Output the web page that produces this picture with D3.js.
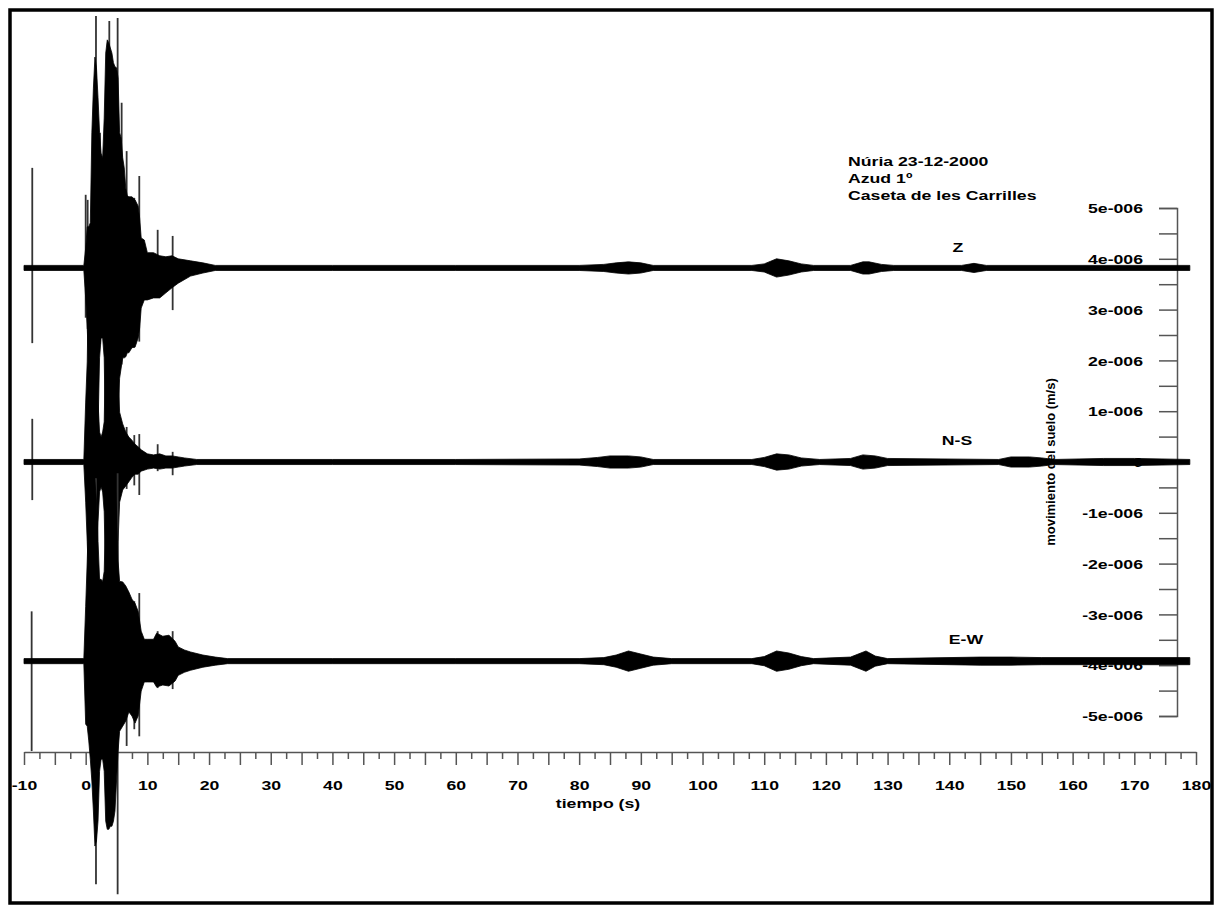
<!DOCTYPE html>
<html><head><meta charset="utf-8">
<script src="https://cdn.jsdelivr.net/npm/d3@7"></script>
<style>
body{margin:0;background:#fff;}
svg{display:block;}
text{font-family:"Liberation Sans",Arial,sans-serif;font-weight:bold;fill:#000;}
</style>
</head><body>
<svg id="c" width="1222" height="911"></svg>
<script>
// ---------- DATA (amplitudes in µm/s, i.e. units of 1e-6 m/s) ----------
const headerLines = ["Núria 23-12-2000", "Azud 1º", "Caseta de les Carrilles"];
const xTitle = "tiempo (s)";
const yTitle = "movimiento del suelo (m/s)";
const traceNames = ["Z", "N-S", "E-W"];
const traceOffsets = [3.82, 0, -3.92];

const xTickValues = [-10,-7.5,-5,-2.5,0,2.5,5,7.5,10,12.5,15,17.5,20,22.5,25,27.5,30,32.5,35,37.5,40,42.5,45,47.5,50,52.5,55,57.5,60,62.5,65,67.5,70,72.5,75,77.5,80,82.5,85,87.5,90,92.5,95,97.5,100,102.5,105,107.5,110,112.5,115,117.5,120,122.5,125,127.5,130,132.5,135,137.5,140,142.5,145,147.5,150,152.5,155,157.5,160,162.5,165,167.5,170,172.5,175,177.5,180];
const xTickLabels = {"-10":"-10","0":"0","10":"10","20":"20","30":"30","40":"40","50":"50","60":"60","70":"70","80":"80","90":"90","100":"100","110":"110","120":"120","130":"130","140":"140","150":"150","160":"160","170":"170","180":"180"};
const yTickValues = [5,4.5,4,3.5,3,2.5,2,1.5,1,0.5,0,-0.5,-1,-1.5,-2,-2.5,-3,-3.5,-4,-4.5,-5];
const yTickLabels = {"5":"5e-006","4":"4e-006","3":"3e-006","2":"2e-006","1":"1e-006","0":"0","-1":"-1e-006","-2":"-2e-006","-3":"-3e-006","-4":"-4e-006","-5":"-5e-006"};

// Envelope of each trace: time (s), upper amplitude, lower amplitude
const zTime = [-10,-0.3,0,0.25,0.5,0.75,1,1.25,1.5,1.75,2,2.25,2.5,2.75,3,3.25,3.5,3.75,4,4.25,4.5,4.75,5,5.25,5.5,5.75,6,6.25,6.5,6.75,7,7.5,8,8.5,8.75,9,9.5,10,11,12,13,14,15,17,19,21,40,60,80,84,86,88,90,92,108,110,112,114,116,118,124,126,127,129,131,142,144,146,179];
const zUp   = [0.05,0.05,0.39,0.81,0.81,0.89,2.66,3.54,4.15,3.94,3.35,2.66,2.26,2.17,2.95,4.23,4.49,4.43,4.33,4.23,4.04,3.96,3.94,3.74,2.66,2.56,2.17,1.97,1.57,1.42,1.40,1.40,1.34,1.22,0.98,0.59,0.55,0.30,0.30,0.24,0.22,0.24,0.18,0.14,0.10,0.05,0.05,0.05,0.05,0.07,0.10,0.12,0.10,0.05,0.05,0.08,0.18,0.14,0.08,0.05,0.05,0.12,0.12,0.07,0.05,0.05,0.09,0.05,0.05];
const zDown = [0.05,0.05,0.59,1.18,1.97,2.95,3.94,3.94,3.84,3.74,3.15,1.77,1.38,1.38,1.77,3.54,3.94,4.04,3.94,3.84,3.74,3.64,3.35,2.95,2.17,1.97,1.77,1.77,1.75,1.67,1.67,1.57,1.56,1.38,1.18,0.79,0.63,0.63,0.59,0.59,0.49,0.39,0.30,0.16,0.10,0.05,0.05,0.05,0.05,0.07,0.10,0.12,0.10,0.05,0.05,0.08,0.18,0.14,0.08,0.05,0.05,0.12,0.12,0.07,0.05,0.05,0.09,0.05,0.05];

const nsTime = [-10,-0.3,0,0.25,0.5,0.75,1,1.25,1.5,1.75,2,2.25,2.5,2.75,3,3.25,3.5,3.75,4,4.25,4.5,4.75,5,5.25,5.5,6,6.5,7,7.5,8,8.5,9,10,11,12,13,14,15,16,18,40,60,80,83,85,88,90,92,108,110,112,114,116,119,124,126,128,130,148,150,153,155,157,165,170,179];
const nsUp   = [0.05,0.05,1.18,1.97,3.84,3.84,3.84,3.84,3.84,3.74,1.18,0.59,0.49,0.59,0.79,2.36,3.84,3.94,3.94,3.94,3.84,3.74,3.54,1.77,0.98,0.75,0.59,0.49,0.43,0.35,0.30,0.24,0.16,0.14,0.16,0.12,0.12,0.10,0.08,0.05,0.05,0.05,0.06,0.09,0.12,0.12,0.10,0.05,0.05,0.09,0.16,0.14,0.08,0.05,0.07,0.14,0.12,0.07,0.05,0.10,0.10,0.08,0.05,0.07,0.07,0.05];
const nsDown = [0.05,0.05,0.79,1.57,2.44,2.56,2.46,2.46,2.44,2.36,1.18,0.59,0.49,0.59,0.98,2.36,3.94,3.94,3.94,3.94,3.84,3.54,2.95,1.57,0.79,0.55,0.47,0.39,0.30,0.24,0.24,0.18,0.14,0.12,0.14,0.12,0.12,0.10,0.08,0.05,0.05,0.05,0.06,0.09,0.12,0.12,0.10,0.05,0.05,0.09,0.16,0.14,0.08,0.05,0.07,0.14,0.12,0.07,0.05,0.10,0.10,0.08,0.05,0.07,0.07,0.05];

const ewTime = [-10,-0.3,0,0.25,0.5,0.75,1,1.25,1.5,1.75,2,2.25,2.5,2.75,3,3.25,3.5,3.75,4,4.25,4.5,4.75,5,5.25,5.5,6,6.5,7,7.5,8,8.5,9,9.5,10,11,11.5,12.5,13.5,14.5,15,16,17,19,21,23,40,60,80,84,86,88,90,92,95,108,110,112,114,116,118,124,126.5,128,130,145,150,155,179];
const ewUp   = [0.05,0.05,1.08,1.97,2.95,3.54,3.74,3.74,3.54,3.15,2.36,1.61,1.61,1.57,1.77,2.95,3.94,3.94,3.94,3.84,3.74,3.54,2.95,1.97,1.57,1.56,1.48,1.36,1.22,1.14,0.98,0.59,0.43,0.43,0.43,0.55,0.49,0.51,0.39,0.28,0.22,0.18,0.12,0.08,0.05,0.05,0.05,0.05,0.07,0.12,0.20,0.14,0.08,0.05,0.05,0.09,0.20,0.16,0.09,0.05,0.08,0.20,0.10,0.05,0.08,0.08,0.07,0.07];
const ewDown = [0.05,0.05,1.24,1.28,1.57,1.93,2.36,2.95,3.64,3.54,3.15,2.17,1.93,1.93,2.17,3.15,3.31,3.31,3.25,3.25,3.15,2.95,2.36,1.77,1.38,1.28,1.18,1.00,1.08,1.22,1.08,0.59,0.41,0.41,0.41,0.51,0.47,0.49,0.39,0.28,0.22,0.18,0.12,0.08,0.05,0.05,0.05,0.05,0.07,0.12,0.20,0.14,0.08,0.05,0.05,0.09,0.20,0.16,0.09,0.05,0.08,0.20,0.10,0.05,0.08,0.08,0.07,0.07];

// Isolated thin spikes: time, upper reach, lower reach
const zSpikeTime = [-8.66,0,0.32,1.67,2.32,3.83,5.18,5.83,6.64,7.88,8.69,11.67,14.1];
const zSpikeUp   = [1.97,1.44,1.34,4.96,2.66,4.86,4.92,3.25,2.30,1.38,1.81,0.75,0.63];
const zSpikeDown = [1.48,0.98,1.20,3.90,1.50,3.90,3.80,1.90,1.60,1.50,1.45,0.55,0.83];

const nsSpikeTime = [-8.66,6.64,7.88,8.69,11.67,14.1];
const nsSpikeUp   = [0.85,0.69,0.53,0.55,0.35,0.20];
const nsSpikeDown = [0.75,0.53,0.46,0.65,0.18,0.26];

const ewSpikeTime = [-8.76,1.67,5.18,6.64,7.88,8.69,11.67,14.1];
const ewSpikeUp   = [0.98,3.60,3.70,1.38,1.18,1.34,0.59,0.59];
const ewSpikeDown = [1.77,4.39,4.59,1.67,1.34,1.48,0.53,0.55];

// ---------- DRAWING ----------
const svg = d3.select("#c");
const SX = 1.36; // horizontal stretch of the original lettering

const x = d3.scaleLinear().domain([-10, 180]).range([24, 1196]);
const y = d3.scaleLinear().domain([-5, 5]).range([716, 208]);

svg.append("rect").attr("x", 10).attr("y", 10).attr("width", 1202).attr("height", 893)
  .attr("fill", "none").attr("stroke", "#000").attr("stroke-width", 3.5);

function stretchText(sel, size) {
  sel.each(function() {
    const t = d3.select(this);
    const tx = +t.attr("x") || 0;
    t.attr("x", tx / SX).attr("transform", `scale(${SX},1)`)
     .style("font-size", size + "px").style("font-family", '"Liberation Sans",Arial,sans-serif').style("font-weight", "bold");
  });
}

// x axis
const xAxis = d3.axisBottom(x).tickValues(xTickValues).tickSizeOuter(0)
  .tickFormat(d => xTickLabels[String(d)] || "");
const gx = svg.append("g").attr("transform", "translate(0,752)").call(xAxis);
gx.select(".domain").attr("stroke", "#555").attr("stroke-width", 1.5);
gx.selectAll(".tick line").attr("stroke", "#555").attr("stroke-width", 1.5)
  .attr("y2", d => (d % 5 === 0 ? 13 : 7));
gx.selectAll(".tick text").attr("y", 38).attr("dy", "0").attr("fill", "#000");
stretchText(gx.selectAll(".tick text"), 13);

// y axis (right side, ticks pointing left)
const yAxis = d3.axisLeft(y).tickValues(yTickValues).tickSizeOuter(0).tickSize(18).tickPadding(16)
  .tickFormat(d => yTickLabels[String(d)] || "");
const gy = svg.append("g").attr("transform", "translate(1177,0)").call(yAxis);
gy.select(".domain").attr("stroke", "#555").attr("stroke-width", 1.5);
gy.selectAll(".tick line").attr("stroke", "#555").attr("stroke-width", 1.5);
gy.selectAll(".tick text").attr("fill", "#000").attr("dy", "0.36em");
stretchText(gy.selectAll(".tick text"), 13);

function addText(str, tx, ty, anchor, size) {
  svg.append("text").attr("transform", `translate(${tx},${ty}) scale(${SX},1)`)
    .attr("text-anchor", anchor).style("font-size", size + "px").text(str);
}
addText(xTitle, 598, 808, "middle", 13);
headerLines.forEach((s, i) => addText(s, 848, 166 + i * 17, "start", 13));

svg.append("text").attr("transform", "translate(1055,462) rotate(-90)")
  .attr("text-anchor", "middle").style("font-size", "13px").text(yTitle);

// traces
const traces = [
  {t: zTime, up: zUp, dn: zDown, st: zSpikeTime, su: zSpikeUp, sd: zSpikeDown},
  {t: nsTime, up: nsUp, dn: nsDown, st: nsSpikeTime, su: nsSpikeUp, sd: nsSpikeDown},
  {t: ewTime, up: ewUp, dn: ewDown, st: ewSpikeTime, su: ewSpikeUp, sd: ewSpikeDown}
];
const labelPos = [[958, 252], [957, 445], [966, 644]];

traces.forEach((tr, k) => {
  const off = traceOffsets[k];
  const rows = tr.t.map((t, i) => ({t, u: tr.up[i], d: tr.dn[i]}));
  const area = d3.area().x(d => x(d.t)).y0(d => y(off - d.d)).y1(d => y(off + d.u)).curve(d3.curveLinear);
  const g = svg.append("g");
  const spikes = tr.st.map((t, i) => ({t, u: tr.su[i], d: tr.sd[i]}));
  g.selectAll("line.sp").data(spikes).join("line").attr("class", "sp")
    .attr("x1", d => x(d.t)).attr("x2", d => x(d.t))
    .attr("y1", d => y(off + d.u)).attr("y2", d => y(off - d.d))
    .attr("stroke", "#333").attr("stroke-width", 1.8);
  g.append("path").datum(rows).attr("d", area).attr("fill", "#000")
    .attr("stroke", "#000").attr("stroke-width", 0.8).attr("stroke-linejoin", "round");
  addText(traceNames[k], labelPos[k][0], labelPos[k][1], "middle", 13);
});
</script>
</body></html>
